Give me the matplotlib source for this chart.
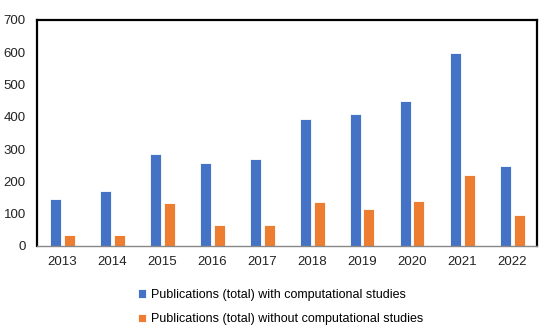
import matplotlib.pyplot as plt
import numpy as np

plt.rcParams['font.family'] = ['Liberation Sans', 'DejaVu Sans']

years = ['2013', '2014', '2015', '2016', '2017', '2018', '2019', '2020', '2021', '2022']
with_comp = [146, 170, 285, 256, 268, 392, 410, 449, 597, 249]
without_comp = [34, 34, 133, 64, 64, 136, 114, 138, 219, 95]

blue = '#4472C4'
orange = '#ED7D31'

fig = plt.figure(figsize=(5.5, 3.36), dpi=100)
ax = fig.add_axes([37/550, 1 - 246/336, 500/550, 226/336])

x = np.arange(len(years))
ax.bar(x - 0.14, with_comp, width=0.22, color=blue, edgecolor='white', linewidth=0.6,
       label='Publications (total) with computational studies')
ax.bar(x + 0.14, without_comp, width=0.22, color=orange, edgecolor='white', linewidth=0.6,
       label='Publications (total) without computational studies')

ax.set_xlim(-0.5, len(years) - 0.5)
ax.set_ylim(0, 700)
ax.set_yticks(range(0, 701, 100))
ax.set_xticks(x)
ax.set_xticklabels(years)
ax.tick_params(axis='both', length=0, labelsize=9.5, colors='#222222')
ax.tick_params(axis='y', pad=8)
ax.tick_params(axis='x', pad=7)

for s in ['top', 'right', 'left']:
    ax.spines[s].set_color('black')
    ax.spines[s].set_linewidth(1.6)
ax.spines['bottom'].set_color('#888888')
ax.spines['bottom'].set_linewidth(1.0)

fig.legend(loc='upper center', bbox_to_anchor=(0.51, 0.155), ncol=1, frameon=False,
           fontsize=9, handlelength=0.7, handleheight=0.7, handletextpad=0.4,
           labelspacing=1.0, borderaxespad=0)

fig.savefig('out.png', dpi=100)
